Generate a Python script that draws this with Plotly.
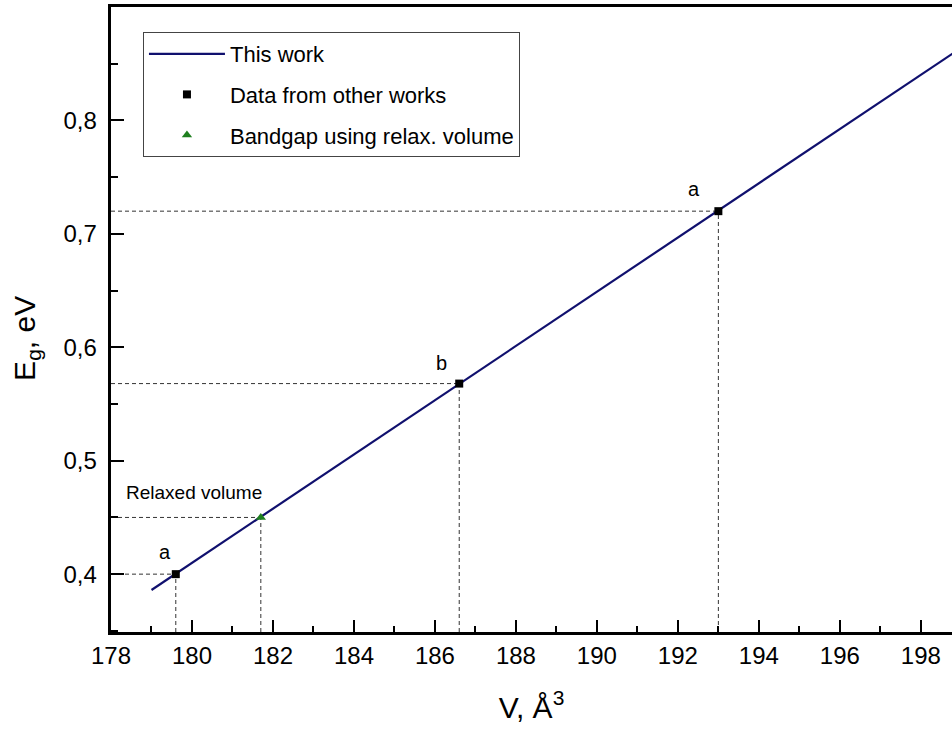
import plotly.graph_objects as go

# Linear fit of the bandgap against cell volume (this work)
vol_fit = [179.0, 200.0]
eg_fit = [0.386, 0.888]

# Reference points from other works
vol_other = [179.6, 186.6, 193.0]
eg_other = [0.400, 0.568, 0.720]
labels_other = ["a", "b", "a"]
label_shift_other = [(-11, 22), (-18, 21), (-24, 22)]

# Bandgap obtained at the relaxed volume
vol_relax = [181.7]
eg_relax = [0.450]
label_relax = "Relaxed volume"

x_range = [178.0, 198.77]
y_range = [0.349, 0.900]

NAVY = "#10106e"
GREEN = "#1f7f1f"
FONT = "Liberation Sans, Arial, sans-serif"

fig = go.Figure()

fig.add_trace(go.Scatter(
    x=vol_fit, y=eg_fit, mode="lines", name="This work",
    line=dict(color=NAVY, width=2.2), legendgroup="g1",
))
fig.add_trace(go.Scatter(
    x=vol_other, y=eg_other, mode="markers", name="Data from other works",
    marker=dict(symbol="square", size=8, color="black"), legendgroup="g2",
))
fig.add_trace(go.Scatter(
    x=vol_relax, y=eg_relax, mode="markers", name="Bandgap using relax. volume",
    marker=dict(symbol="triangle-up", size=9, color=GREEN), legendgroup="g3",
))

# Dashed guides from each point to both axes
guide = dict(color="#333333", width=1, dash="4px,3px")
for vx, vy in list(zip(vol_other, eg_other)) + list(zip(vol_relax, eg_relax)):
    fig.add_shape(type="line", xref="x", yref="y", x0=x_range[0], x1=vx,
                  y0=vy, y1=vy, line=guide, layer="below")
    fig.add_shape(type="line", xref="x", yref="y", x0=vx, x1=vx,
                  y0=y_range[0], y1=vy, line=guide, layer="below")

for vx, vy, txt, (dx, dy) in zip(vol_other, eg_other, labels_other, label_shift_other):
    fig.add_annotation(x=vx, y=vy, text=txt, showarrow=False,
                       xshift=dx, yshift=dy, font=dict(size=20, color="black", family=FONT))

fig.add_annotation(x=vol_relax[0], y=eg_relax[0], text=label_relax, showarrow=False,
                   xshift=-67, yshift=25, font=dict(size=19, color="black", family=FONT))

# Y-axis title placed as a rotated annotation left of the tick labels
fig.add_annotation(x=0, y=0.469, xref="paper", yref="paper", text="E<sub>g</sub>, eV",
                   textangle=-90, showarrow=False, xanchor="center", yanchor="middle",
                   xshift=-84, font=dict(size=30, color="black", family=FONT))

axis_common = dict(
    showline=True, linecolor="black", linewidth=2.5,
    ticks="inside", tickcolor="black", tickwidth=2,
    showgrid=False, zeroline=False,
    tickfont=dict(size=24, color="black", family=FONT),
)

fig.update_xaxes(
    range=x_range, dtick=2, tick0=178, ticklen=12, mirror=True,
    minor=dict(dtick=1, ticks="inside", ticklen=6, tickcolor="black", tickwidth=2),
    title=dict(text="V, Å<sup>3</sup>", font=dict(size=30, color="black", family=FONT), standoff=30),
    **axis_common,
)
fig.update_yaxes(
    range=y_range, dtick=0.1, tick0=0.4, ticklen=13, tickformat=".1f",
    ticksuffix="\u00a0",
    minor=dict(dtick=0.05, ticks="inside", ticklen=7, tickcolor="black", tickwidth=2),
    **axis_common,
)

fig.update_layout(
    width=952, height=729,
    margin=dict(l=111, r=0, t=7, b=97),
    paper_bgcolor="white", plot_bgcolor="white",
    separators=", ",
    font=dict(family=FONT, color="black"),
    legend=dict(
        x=0.038, y=0.96, xanchor="left", yanchor="top",
        bgcolor="white", bordercolor="#444444", borderwidth=1,
        font=dict(size=22, color="black", family=FONT),
        tracegroupgap=9, itemwidth=76,
    ),
)

fig.write_html("out.html")
